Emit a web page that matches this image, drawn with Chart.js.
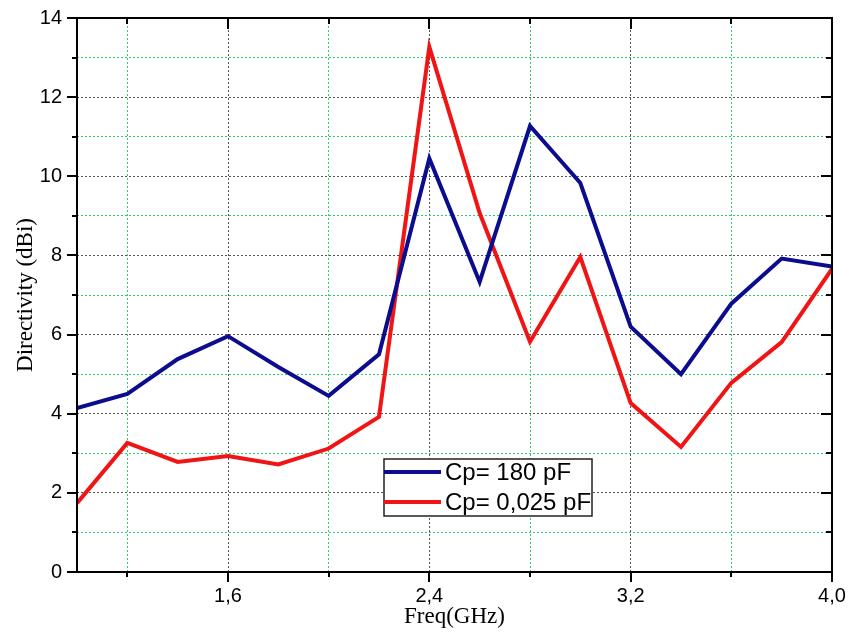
<!DOCTYPE html>
<html>
<head>
<meta charset="utf-8">
<script src="https://cdn.jsdelivr.net/npm/chart.js@4.4.0/dist/chart.umd.min.js"></script>
<style>
  html, body { margin: 0; padding: 0; background: #fff; }
</style>
</head>
<body>
<canvas id="chart" width="849" height="640"></canvas>
<script>
// frequency sweep (GHz) and directivity (dBi) for both capacitor values
const freqs = [1.0, 1.2, 1.4, 1.6, 1.8, 2.0, 2.2, 2.4, 2.6, 2.8, 3.0, 3.2, 3.4, 3.6, 3.8, 4.0];
const cp180 = [4.14, 4.5, 5.38, 5.96, 5.18, 4.45, 5.5, 10.45, 7.33, 11.27, 9.83, 6.2, 5.0, 6.78, 7.92, 7.72];
const cp0025 = [1.74, 3.26, 2.78, 2.93, 2.72, 3.12, 3.92, 13.27, 9.07, 5.82, 7.96, 4.27, 3.16, 4.78, 5.81, 7.66];
const seriesNames = ["Cp= 180 pF", "Cp= 0,025 pF"];
const seriesColors = ["#0c0c8e", "#f01414"];

const xTicks = [1.2, 1.6, 2.0, 2.4, 2.8, 3.2, 3.6, 4.0];
const xLabelled = [1.6, 2.4, 3.2, 4.0];
const yTicks = [0, 1, 2, 3, 4, 5, 6, 7, 8, 9, 10, 11, 12, 13, 14];
const yLabelled = [0, 2, 4, 6, 8, 10, 12, 14];

const sans = "'Liberation Sans', Arial, sans-serif";
const serif = "'Liberation Serif', 'Times New Roman', serif";

function isMajor(v, list) {
    return list.some(function(m) { return Math.abs(m - v) < 1e-6; });
}

function gridColor(list) {
    return function(c) {
        if (!c.tick) return "#444";
        return isMajor(c.tick.value, list) ? "#555" : "#2ccf6e";
    };
}

// keep tick labels from pushing the plot area inwards
function noLabelPadding(scale) {
    scale.paddingTop = 0;
    scale.paddingBottom = 0;
    scale.paddingLeft = 0;
    scale.paddingRight = 0;
}

// black frame around the plot with inward/outward tick marks
const frame = {
    id: "frame",
    afterDatasetsDraw(chart) {
        const ctx = chart.ctx;
        const a = chart.chartArea;
        const x = chart.scales.x;
        const y = chart.scales.y;
        ctx.save();
        ctx.strokeStyle = "#000";
        ctx.lineWidth = 2;
        ctx.beginPath();
        xTicks.forEach(function(v) {
            const px = Math.round(x.getPixelForValue(v));
            const len = isMajor(v, xLabelled) ? 10 : 5;
            ctx.moveTo(px, a.bottom);
            ctx.lineTo(px, a.bottom + len);
            ctx.moveTo(px, a.top);
            ctx.lineTo(px, a.top + len + 1);
        });
        yTicks.forEach(function(v) {
            const py = Math.round(y.getPixelForValue(v));
            const len = isMajor(v, yLabelled) ? 10 : 5;
            ctx.moveTo(a.left - len, py);
            ctx.lineTo(a.left, py);
            ctx.moveTo(a.right - len - 1, py);
            ctx.lineTo(a.right, py);
        });
        ctx.stroke();
        ctx.lineWidth = 2;
        ctx.strokeRect(a.left, a.top, a.right - a.left, a.bottom - a.top);
        ctx.restore();
    }
};

// boxed legend placed inside the plot
const boxLegend = {
    id: "boxLegend",
    afterDraw(chart, args, opts) {
        const ctx = chart.ctx;
        ctx.save();
        ctx.fillStyle = "#fff";
        ctx.fillRect(opts.left, opts.top, opts.width, opts.height);
        ctx.strokeStyle = "#222";
        ctx.lineWidth = 1.5;
        ctx.strokeRect(opts.left, opts.top, opts.width, opts.height);
        ctx.font = "24px " + sans;
        ctx.textBaseline = "middle";
        chart.data.datasets.forEach(function(ds, i) {
            const cy = opts.top + 13 + i * 30;
            ctx.strokeStyle = ds.borderColor;
            ctx.lineWidth = 4;
            ctx.beginPath();
            ctx.moveTo(opts.left, cy);
            ctx.lineTo(opts.left + 57, cy);
            ctx.stroke();
            ctx.fillStyle = "#000";
            ctx.fillText(ds.label, opts.left + 61, cy + 1);
        });
        ctx.restore();
    }
};

const datasets = [cp180, cp0025].map(function(values, i) {
    return {
        label: seriesNames[i],
        data: freqs.map(function(f, j) { return { x: f, y: values[j] }; }),
        borderColor: seriesColors[i],
        backgroundColor: seriesColors[i],
        borderWidth: 4,
        pointRadius: 0,
        tension: 0,
        fill: false
    };
});

new Chart(document.getElementById("chart"), {
    type: "line",
    data: { datasets: datasets },
    options: {
        responsive: false,
        animation: false,
        layout: { padding: { top: 18, right: 17, left: 0, bottom: 0 } },
        plugins: {
            legend: { display: false },
            tooltip: { enabled: false },
            boxLegend: { left: 384, top: 459, width: 208, height: 57 }
        },
        scales: {
            x: {
                type: "linear",
                min: 1.0,
                max: 4.0,
                afterBuildTicks: function(scale) {
                    scale.ticks = xTicks.map(function(v) { return { value: v }; });
                },
                afterFit: function(scale) {
                    scale.height = 68;
                    noLabelPadding(scale);
                },
                ticks: {
                    autoSkip: false,
                    maxRotation: 0,
                    padding: 12,
                    color: "#000",
                    font: { family: sans, size: 20 },
                    callback: function(v) {
                        return isMajor(v, xLabelled) ? v.toFixed(1).replace(".", ",") : "";
                    }
                },
                grid: { drawTicks: false, color: gridColor(xLabelled), lineWidth: 1 },
                border: { display: false, dash: [2, 2] },
                title: {
                    display: true,
                    text: "Freq(GHz)",
                    color: "#000",
                    font: { family: serif, size: 23 },
                    padding: { top: 0, bottom: 9 }
                }
            },
            y: {
                min: 0,
                max: 14,
                afterBuildTicks: function(scale) {
                    scale.ticks = yTicks.map(function(v) { return { value: v }; });
                },
                afterFit: function(scale) {
                    scale.width = 77;
                    noLabelPadding(scale);
                },
                ticks: {
                    autoSkip: false,
                    padding: 15,
                    color: "#000",
                    font: { family: sans, size: 20 },
                    callback: function(v) { return isMajor(v, yLabelled) ? String(v) : ""; }
                },
                grid: { drawTicks: false, color: gridColor(yLabelled), lineWidth: 1 },
                border: { display: false, dash: [2, 2] },
                title: {
                    display: true,
                    text: "Directivity (dBi)",
                    color: "#000",
                    font: { family: serif, size: 23 },
                    padding: { top: 12, bottom: 0 }
                }
            }
        }
    },
    plugins: [frame, boxLegend]
});
</script>
</body>
</html>
